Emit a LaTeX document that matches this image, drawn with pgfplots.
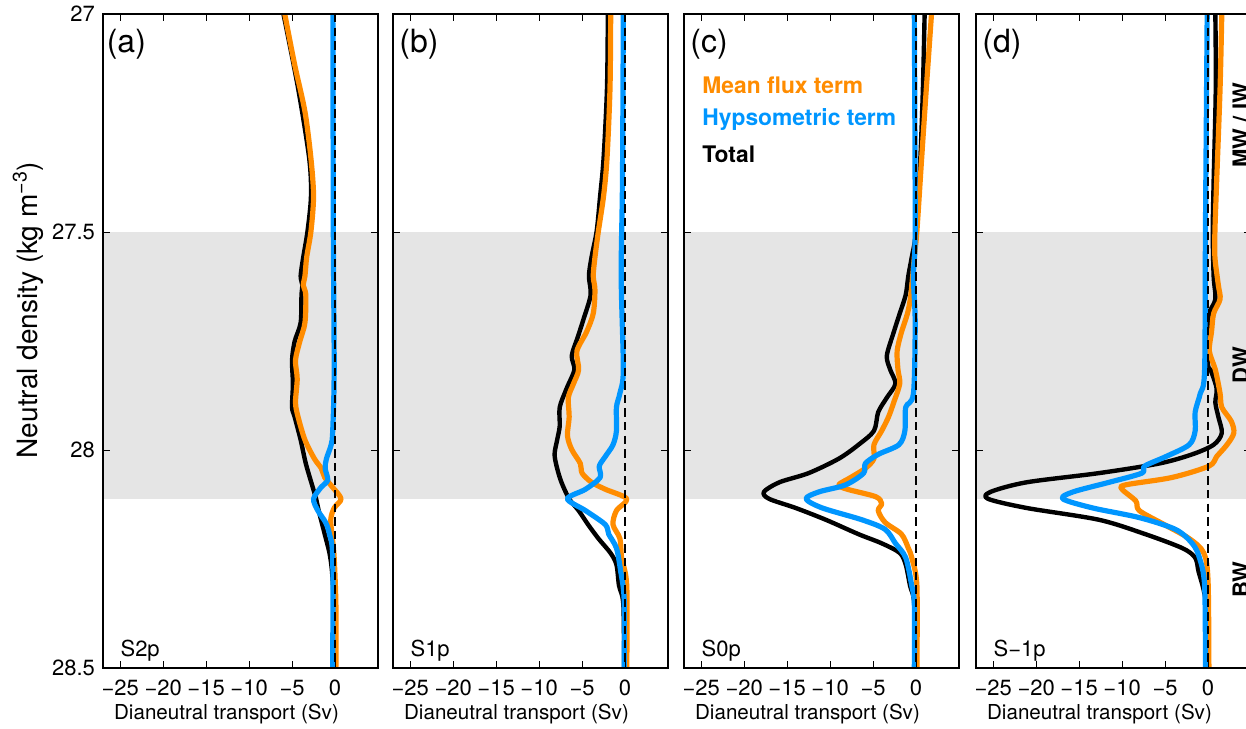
\documentclass[border=0pt]{standalone}
\usepackage{fontspec}
\setmainfont{TeX Gyre Heros}
\usepackage{pgfplots}
\pgfplotsset{compat=1.18}
\definecolor{mforange}{RGB}{255,140,0}
\definecolor{hyblue}{RGB}{0,150,255}
\definecolor{bandgray}{RGB}{229,229,229}
\pgfplotsset{
  panel/.style={
    scale only axis, width=137.5pt, height=327pt, anchor=south west,
    xmin=-27, xmax=5, ymin=27, ymax=28.5, y dir=reverse,
    xtick={-25,-20,-15,-10,-5,0},
    xticklabels={−25,−20,−15,−10,−5,0},
    ytick={27,27.5,28,28.5}, yticklabels={},
    tick align=inside, major tick length=3.5pt,
    tick style={black, line width=0.5pt},
    axis line style={line width=0.7pt},
    axis on top, clip mode=individual,
    xticklabel style={font=\fontsize{11}{13}\selectfont, yshift=-2.5pt},
    yticklabel style={font=\fontsize{11}{13}\selectfont, xshift=-0.5pt},
    xlabel={Dianeutral transport (Sv)},
    xlabel style={font=\fontsize{10.3}{12}\selectfont, xshift=-7pt, yshift=3pt},
  },
  band/.style={fill=bandgray, draw=none, forget plot},
  tot/.style={black, line width=2.2pt, smooth, tension=0.5, line join=round},
  mf/.style={mforange, line width=2.6pt, smooth, tension=0.5, line join=round},
  hy/.style={hyblue, line width=2.6pt, smooth, tension=0.5, line join=round},
  zero/.style={black, line width=0.6pt, dash pattern=on 4.2pt off 2.6pt},
}
\newcommand{\bandzero}{%
  \addplot[band] coordinates {(-27,27.5) (5,27.5) (5,28.112) (-27,28.112)} -- cycle;
}
\begin{document}
\begin{tikzpicture}
\useasboundingbox (0,0) rectangle (623pt,364pt);
\clip (0,0) rectangle (623pt,364pt);

% ---------- (a) ----------
\begin{axis}[panel, at={(51.5pt,30pt)}, yticklabels={27,27.5,28,28.5}]
\bandzero
\addplot[tot] coordinates {(-6.0,27.0) (-4.3,27.170) (-3.0,27.332) (-2.8,27.418) (-3.2,27.498) (-3.7,27.558) (-4.0,27.601) (-3.8,27.622) (-3.9,27.644) (-4.0,27.708) (-4.7,27.751) (-5.0,27.794) (-4.9,27.848) (-5.0,27.902) (-4.7,27.924) (-4.0,27.977) (-3.4,28.031) (-2.6,28.085) (-2.2,28.112) (-1.9,28.139) (-1.2,28.193) (-0.65,28.236) (-0.35,28.279) (-0.15,28.354) (-0.1,28.5)};
\addplot[mf] coordinates {(-5.85,27.0) (-4.7,27.116) (-3.5,27.224) (-2.8,27.332) (-2.5,27.418) (-2.8,27.498) (-3.3,27.558) (-3.5,27.601) (-3.7,27.622) (-3.4,27.644) (-3.5,27.708) (-4.1,27.751) (-4.6,27.794) (-4.4,27.837) (-4.6,27.891) (-4.3,27.924) (-3.5,27.977) (-2.4,28.020) (-1.6,28.042) (-1.2,28.063) (-0.3,28.085) (0.7,28.112) (-0.1,28.133) (-0.5,28.160) (-0.3,28.203) (-0.1,28.247) (0.1,28.354) (0.1,28.5)};
\addplot[hy] coordinates {(-0.25,27.0) (-0.2,27.493) (-0.1,27.816) (-0.27,27.956) (-0.45,27.988) (-1.0,28.020) (-1.15,28.042) (-0.85,28.069) (-1.6,28.085) (-2.5,28.112) (-2.0,28.139) (-1.1,28.166) (-0.65,28.193) (-0.27,28.247) (-0.27,28.5)};
\addplot[zero] coordinates {(0,27) (0,28.5)};
\node[anchor=west, inner sep=0pt, font=\fontsize{16}{19}\selectfont] at (axis cs:-26.6,27.07) {(a)};
\node[anchor=west, inner sep=0pt, font=\fontsize{11}{13}\selectfont] at (axis cs:-25.0,28.46) {S2p};
\end{axis}

% ---------- (b) ----------
\begin{axis}[panel, at={(196.5pt,30pt)}]
\bandzero
\addplot[tot] coordinates {(-2.0,27.0) (-2.1,27.170) (-2.5,27.332) (-2.9,27.418) (-3.3,27.498) (-3.9,27.558) (-4.2,27.601) (-4.0,27.644) (-4.8,27.698) (-5.5,27.741) (-6.2,27.784) (-5.9,27.816) (-6.8,27.859) (-7.6,27.902) (-7.6,27.945) (-7.9,27.977) (-8.2,28.010) (-7.9,28.042) (-7.4,28.074) (-6.5,28.112) (-5.4,28.139) (-4.3,28.171) (-3.1,28.203) (-1.7,28.236) (-1.0,28.263) (-0.7,28.311) (-0.2,28.354) (-0.1,28.5)};
\addplot[mf] coordinates {(-1.67,27.0) (-1.75,27.170) (-2.1,27.332) (-2.5,27.418) (-3.1,27.498) (-3.5,27.558) (-3.7,27.601) (-3.5,27.633) (-3.7,27.687) (-4.5,27.730) (-5.6,27.773) (-5.4,27.816) (-6.0,27.848) (-6.6,27.880) (-6.5,27.924) (-6.7,27.967) (-6.2,27.999) (-5.2,28.031) (-5.0,28.053) (-3.9,28.074) (-2.3,28.090) (0.2,28.112) (-1.0,28.139) (-1.4,28.171) (-0.6,28.203) (-0.4,28.247) (0.2,28.311) (0.2,28.5)};
\addplot[hy] coordinates {(-0.2,27.0) (-0.3,27.385) (-0.45,27.601) (-0.2,27.816) (-0.6,27.870) (-1.0,27.902) (-1.0,27.956) (-1.4,27.988) (-2.3,28.015) (-3.0,28.037) (-2.9,28.063) (-4.6,28.090) (-6.7,28.112) (-4.6,28.139) (-2.3,28.171) (-1.9,28.193) (-1.0,28.225) (-0.5,28.279) (-0.1,28.343) (-0.1,28.5)};
\addplot[zero] coordinates {(0,27) (0,28.5)};
\node[anchor=west, inner sep=0pt, font=\fontsize{16}{19}\selectfont] at (axis cs:-26.3,27.07) {(b)};
\node[anchor=west, inner sep=0pt, font=\fontsize{11}{13}\selectfont] at (axis cs:-25.0,28.46) {S1p};
\end{axis}

% ---------- (c) ----------
\begin{axis}[panel, at={(342pt,30pt)}]
\bandzero
\addplot[tot] coordinates {(1.0,27.0) (0.8,27.170) (0.5,27.332) (0.0,27.498) (-0.5,27.558) (-0.9,27.601) (-1.2,27.644) (-1.9,27.687) (-2.6,27.730) (-3.4,27.784) (-3.0,27.816) (-2.4,27.848) (-3.4,27.880) (-4.4,27.913) (-4.9,27.956) (-6.7,27.988) (-9.0,28.020) (-12.5,28.053) (-15.9,28.074) (-17.7,28.096) (-17.1,28.112) (-14.0,28.133) (-10.5,28.160) (-6.7,28.193) (-4.0,28.214) (-1.9,28.236) (-1.2,28.263) (-0.7,28.311) (-0.2,28.354) (-0.1,28.5)};
\addplot[mf] coordinates {(1.8,27.0) (1.2,27.170) (0.65,27.332) (0.1,27.498) (-0.2,27.558) (-0.6,27.644) (-1.0,27.687) (-1.7,27.730) (-2.2,27.773) (-2.1,27.816) (-1.9,27.848) (-2.6,27.891) (-3.2,27.924) (-4.0,27.956) (-4.9,27.988) (-4.9,28.020) (-5.9,28.042) (-7.6,28.063) (-9.0,28.080) (-8.0,28.090) (-4.7,28.107) (-4.0,28.123) (-4.4,28.139) (-3.6,28.166) (-1.7,28.193) (-0.9,28.225) (-0.5,28.247) (0.1,28.311) (0.1,28.5)};
\addplot[hy] coordinates {(-0.2,27.0) (-0.1,27.493) (-0.3,27.601) (-0.1,27.708) (-0.3,27.870) (-1.2,27.902) (-1.3,27.956) (-2.0,27.988) (-4.4,28.010) (-5.9,28.031) (-6.1,28.053) (-8.2,28.080) (-11.3,28.096) (-12.8,28.112) (-10.9,28.133) (-6.3,28.160) (-3.6,28.182) (-2.4,28.214) (-1.2,28.247) (-0.5,28.311) (-0.2,28.354) (-0.2,28.5)};
\addplot[zero] coordinates {(0,27) (0,28.5)};
\node[anchor=west, inner sep=0pt, font=\fontsize{16}{19}\selectfont] at (axis cs:-26.3,27.07) {(c)};
\node[anchor=west, inner sep=0pt, font=\fontsize{11}{13}\selectfont] at (axis cs:-25.0,28.46) {S0p};
\node[anchor=west, inner sep=0pt, text=mforange, font=\bfseries\fontsize{11.4}{13}\selectfont] at (axis cs:-24.9,27.163) {Mean flux term};
\node[anchor=west, inner sep=0pt, text=hyblue, font=\bfseries\fontsize{11.4}{13}\selectfont] at (axis cs:-24.9,27.241) {Hypsometric term};
\node[anchor=west, inner sep=0pt, text=black, font=\bfseries\fontsize{11.4}{13}\selectfont] at (axis cs:-24.9,27.321) {Total};
\end{axis}

% ---------- (d) ----------
\begin{axis}[panel, at={(488pt,30pt)}]
\bandzero
\addplot[tot] coordinates {(0.85,27.0) (0.9,27.170) (0.65,27.385) (0.55,27.498) (0.65,27.601) (0.85,27.654) (0.1,27.687) (0.0,27.730) (0.0,27.805) (0.3,27.816) (1.0,27.859) (0.85,27.891) (1.2,27.924) (1.6,27.961) (0.65,27.988) (-1.85,28.010) (-5.7,28.031) (-12.7,28.053) (-21.1,28.074) (-25.3,28.096) (-25.6,28.112) (-21.1,28.133) (-12.7,28.160) (-7.3,28.193) (-3.0,28.225) (-1.5,28.247) (-1.1,28.279) (-0.5,28.322) (-0.1,28.376) (-0.1,28.5)};
\addplot[mf] coordinates {(1.6,27.0) (1.4,27.170) (1.0,27.385) (0.8,27.498) (0.8,27.558) (1.2,27.622) (1.4,27.654) (0.65,27.687) (0.4,27.730) (0.15,27.773) (0.85,27.816) (1.4,27.870) (1.6,27.902) (2.7,27.934) (3.0,27.961) (2.2,27.988) (1.0,28.015) (0.1,28.037) (-4.2,28.063) (-9.6,28.080) (-10.0,28.090) (-8.4,28.117) (-8.0,28.139) (-5.1,28.171) (-2.2,28.203) (-0.5,28.236) (0.0,28.300) (0.1,28.5)};
\addplot[hy] coordinates {(-0.1,27.0) (-0.3,27.493) (-0.4,27.816) (-0.9,27.870) (-1.5,27.913) (-1.5,27.956) (-2.2,27.988) (-4.9,28.015) (-7.4,28.037) (-7.7,28.053) (-11.5,28.074) (-15.7,28.096) (-16.9,28.112) (-13.4,28.133) (-8.0,28.155) (-3.8,28.182) (-1.85,28.214) (-1.0,28.247) (-0.4,28.311) (-0.3,28.5)};
\addplot[zero] coordinates {(0,27) (0,28.5)};
\node[anchor=west, inner sep=0pt, font=\fontsize{16}{19}\selectfont] at (axis cs:-26.3,27.07) {(d)};
\node[anchor=west, inner sep=0pt, font=\fontsize{11}{13}\selectfont] at (axis cs:-25.0,28.46) {S−1p};
\node[rotate=90, anchor=north, inner sep=0pt, font=\bfseries\fontsize{11}{13}\selectfont] at (axis cs:2.8,27.255) {MW / IW};
\node[rotate=90, anchor=north, inner sep=0pt, font=\bfseries\fontsize{11}{13}\selectfont] at (axis cs:2.8,27.805) {DW};
\node[rotate=90, anchor=north, inner sep=0pt, font=\bfseries\fontsize{11}{13}\selectfont] at (axis cs:2.8,28.298) {BW};
\end{axis}

\node[rotate=90, font=\fontsize{14}{16}\selectfont] at (14pt,209pt) {Neutral density (kg m\textsuperscript{−3})};
\end{tikzpicture}
\end{document}
